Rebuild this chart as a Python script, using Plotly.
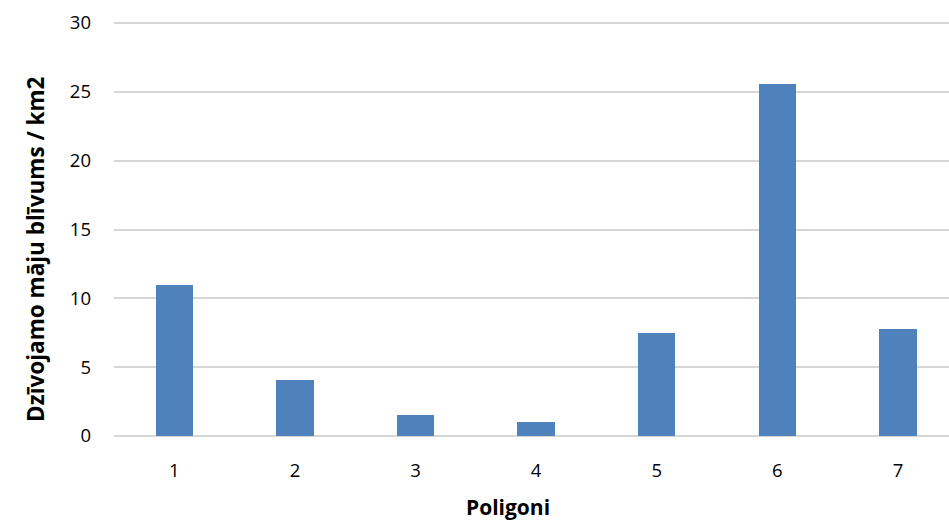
import plotly.graph_objects as go

categories = ["1", "2", "3", "4", "5", "6", "7"]
values = [11.0, 4.05, 1.52, 1.0, 7.5, 25.58, 7.78]
y_ticks = [0, 5, 10, 15, 20, 25, 30]
x_title = "Poligoni"
y_title = "Dzīvojamo māju blīvums / km2"

FONT = "Open Sans"

fig = go.Figure()
fig.add_trace(go.Bar(
    x=categories, y=values,
    width=0.31,
    marker=dict(color="#4F81BD", line=dict(width=0)),
    hoverinfo="x+y",
))

fig.update_layout(
    width=949, height=521,
    margin=dict(l=114, r=0, t=19, b=85),
    paper_bgcolor="white", plot_bgcolor="white",
    showlegend=False,
    font=dict(family=FONT, size=18.5, color="#000000"),
    bargap=0,
    xaxis=dict(
        type="category",
        range=[-0.5, 6.423],
        showgrid=False,
        showline=False,
        zeroline=False,
        ticks="",
        ticklabelstandoff=21,
        tickfont=dict(family=FONT, size=18.5, color="#000000"),
    ),
    yaxis=dict(
        range=[0, 30.29],
        tickvals=y_ticks,
        showgrid=True,
        gridcolor="#D6D6D6",
        gridwidth=1.6,
        zeroline=True,
        zerolinecolor="#D6D6D6",
        zerolinewidth=1.6,
        showline=False,
        ticks="",
        ticklabelstandoff=22,
        tickfont=dict(family=FONT, size=18.5, color="#000000"),
    ),
    annotations=[
        dict(text=f"<b>{x_title}</b>", xref="paper", yref="paper",
             x=(508 - 114) / (949 - 114), y=-(507 - 436) / (436 - 19),
             xanchor="center", yanchor="middle", showarrow=False,
             font=dict(family=FONT, size=21, color="#000000")),
        dict(text=f"<b>{y_title}</b>", xref="paper", yref="paper",
             x=-(114 - 35) / (949 - 114), y=(436 - 249) / (436 - 19),
             xanchor="center", yanchor="middle", textangle=-90, showarrow=False,
             font=dict(family=FONT, size=22.5, color="#000000")),
    ],
)

fig.write_html(
    "out.html",
    config={"displayModeBar": False},
    post_script="document.body.style.margin='0';document.body.style.padding='0';document.body.style.overflow='hidden';",
)
